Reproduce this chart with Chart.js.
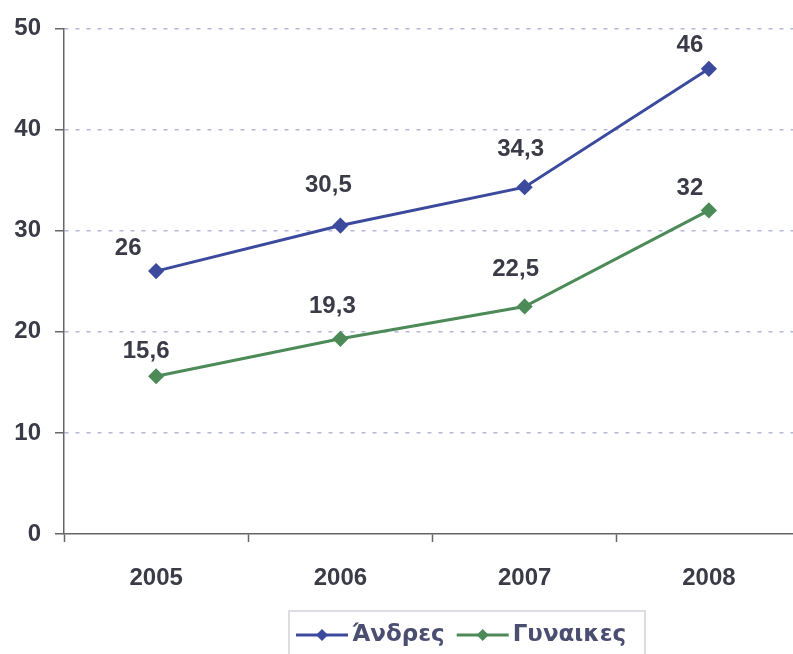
<!DOCTYPE html>
<html lang="el">
<head>
    <meta charset="UTF-8">
    <title>Άνδρες - Γυναικες</title>
    <style>
        html, body { margin: 0; padding: 0; background: #fff; overflow: hidden; }
        #wrap { width: 793px; height: 654px; overflow: hidden; }
        #lineChart { display: block; }
    </style>
</head>
<body>
    <div id="wrap">
        <!-- the plot runs a little past the right edge of the window -->
        <canvas id="lineChart" width="801" height="654"></canvas>
    </div>

    <script src="https://cdn.jsdelivr.net/npm/chart.js"></script>
    <script>
        // data
        const years = ['2005', '2006', '2007', '2008'];
        const men = [26, 30.5, 34.3, 46];
        const women = [15.6, 19.3, 22.5, 32];
        const seriesNames = ['Άνδρες', 'Γυναικες'];

        const blue = '#3c4a9e';
        const green = '#4c8a58';
        const textColor = '#3b3b48';
        const tickFont = '"Liberation Sans", Arial, sans-serif';

        // where each value label sits relative to its point (px)
        const labelShift = [
            [[-28, -23], [-12, -40], [-4, -38], [-19, -23]],
            [[-10, -25], [-8, -32], [-9, -37], [-19, -22]]
        ];

        const fmt = v => String(v).replace('.', ',');

        const valueLabels = {
            id: 'valueLabels',
            afterDatasetsDraw(chart) {
                const ctx = chart.ctx;
                ctx.save();
                ctx.font = 'bold 24px ' + tickFont;
                ctx.fillStyle = textColor;
                ctx.textAlign = 'center';
                ctx.textBaseline = 'middle';
                chart.data.datasets.forEach((ds, i) => {
                    chart.getDatasetMeta(i).data.forEach((pt, j) => {
                        const s = labelShift[i][j];
                        ctx.fillText(fmt(ds.data[j]), pt.x + s[0], pt.y + s[1]);
                    });
                });
                ctx.restore();
            }
        };

        // boxed legend at the bottom: line with a diamond, then the name
        const boxLegend = {
            id: 'boxLegend',
            afterDraw(chart) {
                const ctx = chart.ctx;
                ctx.save();
                ctx.strokeStyle = '#dcdde2';
                ctx.lineWidth = 2;
                ctx.strokeRect(289, 611, 356, 60);
                ctx.font = 'bold 23px "DejaVu Sans", sans-serif';
                ctx.textBaseline = 'middle';
                let x = 296;
                const y = 635;
                chart.data.datasets.forEach(ds => {
                    ctx.strokeStyle = ds.borderColor;
                    ctx.lineWidth = 3;
                    ctx.beginPath();
                    ctx.moveTo(x, y);
                    ctx.lineTo(x + 52, y);
                    ctx.stroke();
                    ctx.fillStyle = ds.borderColor;
                    ctx.beginPath();
                    ctx.moveTo(x + 26, y - 6);
                    ctx.lineTo(x + 32, y);
                    ctx.lineTo(x + 26, y + 6);
                    ctx.lineTo(x + 20, y);
                    ctx.closePath();
                    ctx.fill();
                    ctx.fillStyle = '#4a4f72';
                    ctx.fillText(ds.label, x + 56, y);
                    x += 56 + ctx.measureText(ds.label).width + 12;
                });
                ctx.restore();
            }
        };

        const ctx = document.getElementById('lineChart').getContext('2d');
        const chart = new Chart(ctx, {
            type: 'line',
            data: {
                labels: years,
                datasets: [
                    {
                        label: seriesNames[0],
                        data: men,
                        borderColor: blue,
                        backgroundColor: blue,
                        borderWidth: 3,
                        pointStyle: 'rectRot',
                        pointRadius: 6,
                        tension: 0
                    },
                    {
                        label: seriesNames[1],
                        data: women,
                        borderColor: green,
                        backgroundColor: green,
                        borderWidth: 3,
                        pointStyle: 'rectRot',
                        pointRadius: 6,
                        tension: 0
                    }
                ]
            },
            options: {
                responsive: false,
                animation: false,
                layout: {
                    autoPadding: false,
                    padding: { top: 26, left: 0, right: 0, bottom: 60 }
                },
                plugins: {
                    legend: { display: false },
                    tooltip: { enabled: false }
                },
                scales: {
                    x: {
                        offset: true,
                        grid: {
                            offset: true,
                            drawOnChartArea: false,
                            drawTicks: true,
                            tickLength: 8,
                            tickColor: '#666',
                            tickWidth: 1.5
                        },
                        border: { color: '#666', width: 1.5 },
                        ticks: {
                            color: textColor,
                            padding: 22,
                            font: { family: tickFont, size: 24, weight: 'bold' }
                        },
                        afterFit: scale => {
                            scale.height = 60;
                            scale.paddingLeft = 0;
                            scale.paddingRight = 0;
                        }
                    },
                    y: {
                        min: 0,
                        max: 50,
                        ticks: {
                            stepSize: 10,
                            color: textColor,
                            padding: 14,
                            font: { family: tickFont, size: 24, weight: 'bold' }
                        },
                        grid: {
                            color: c => c.tick && c.tick.value === 0 ? 'rgba(0,0,0,0)' : '#b4b8d8',
                            lineWidth: 1.5,
                            tickLength: 9,
                            tickColor: '#666',
                            tickWidth: 1.5,
                            tickBorderDash: []
                        },
                        border: { color: '#666', width: 1.5, dash: [4, 7] },
                        afterFit: scale => { scale.width = 64; }
                    }
                }
            },
            plugins: [valueLabels, boxLegend]
        });
    </script>
</body>
</html>
